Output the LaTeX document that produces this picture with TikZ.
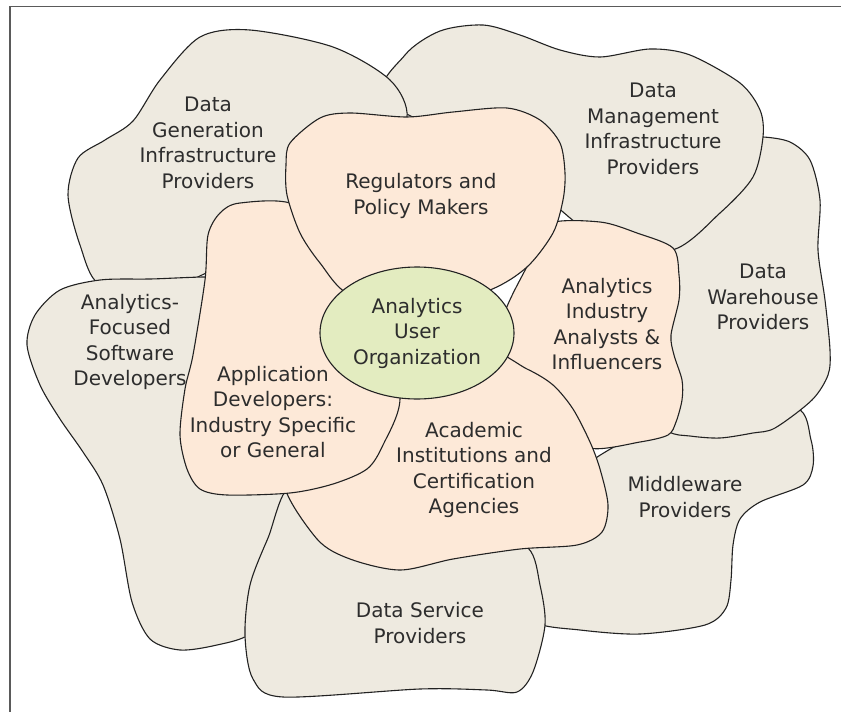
\documentclass[tikz,border=0pt]{standalone}
\usepackage{fontspec}
\setmainfont{DejaVu Sans}
\usepackage{xcolor}
\usetikzlibrary{shapes.geometric}

\definecolor{outerfill}{RGB}{238,234,224}
\definecolor{innerfill}{RGB}{253,233,216}
\definecolor{corefill}{RGB}{227,236,192}
\definecolor{inkline}{RGB}{34,34,34}
\definecolor{inktext}{RGB}{45,45,45}
\definecolor{framecol}{RGB}{90,90,90}

\begin{document}
\begin{tikzpicture}[
    x=1pt, y=-1pt,
    % styles
    outer_blob/.style={
        draw=inkline, fill=outerfill, line width=1.1pt
    },
    inner_blob/.style={
        draw=inkline, fill=innerfill, line width=1.1pt
    },
    core_node/.style={
        ellipse, draw=inkline, fill=corefill, line width=1.1pt,
        minimum width=194pt, minimum height=132pt, inner sep=0pt,
        align=center, text=inktext, font=\fontsize{20}{25.5}\selectfont
    },
    blob_label/.style={
        align=center, text=inktext, font=\fontsize{20}{25.5}\selectfont
    },
    frame_line/.style={
        draw=framecol, line width=1.5pt
    }
]
    \useasboundingbox (0,0) rectangle (841,712);

    % --- 1. FRAME (top and left only) ---
    \draw[frame_line] (10,712) -- (10,6.5) -- (841,6.5);

    % --- 2. OUTER RING (providers) ---
    % Middleware
    \draw[outer_blob] plot[smooth cycle] coordinates {
        (796,408) (811,440) (813,466) (803,485) (760,502) (740,519) (733,545)
        (731,580) (726,608) (705,625) (640,634) (580,630) (535,622)
        (525,590) (530,540) (580,470) (650,430) (720,418)};
    % Data warehouse
    \draw[outer_blob] plot[smooth cycle] coordinates {
        (763,137) (790,142) (810,160) (820,200) (818,250) (825,300) (830,350)
        (828,375) (812,400) (775,428) (753,433) (720,438) (690,436) (668,431)
        (640,400) (650,255) (720,170) (750,140)};
    % Data management
    \draw[outer_blob] plot[smooth cycle] coordinates {
        (405,55) (440,31) (483,25) (520,35) (560,50) (600,57) (650,49) (690,55)
        (740,83) (760,110) (763,137) (753,177) (720,213) (672,250)
        (600,240) (500,160) (385,100)};
    % Data generation
    \draw[outer_blob] plot[smooth cycle] coordinates {
        (100,285) (80,245) (68,195) (78,158) (105,140) (133,121) (160,80)
        (200,37) (250,30) (333,47) (390,80) (407,118) (380,170) (270,240)
        (160,292)};
    % Analytics-focused software
    \draw[outer_blob] plot[smooth cycle] coordinates {
        (230,278) (150,279) (100,280) (60,290) (35,315) (27,345) (40,385)
        (60,419) (83,452) (103,485) (120,539) (132,602) (150,639) (180,650)
        (217,645) (250,634) (280,600) (300,510) (290,470) (220,400) (230,300)};
    % Data service
    \draw[outer_blob] plot[smooth cycle] coordinates {
        (292,486) (268,538) (250,585) (245,635) (253,679) (283,697) (420,689)
        (487,690) (517,692) (533,672) (545,625) (540,585) (528,548)
        (480,530) (350,530)};

    % --- 3. INNER RING ---
    % Analytics industry
    \draw[inner_blob] plot[smooth cycle] coordinates {
        (548,224) (600,222) (637,233) (673,248) (679,275) (679,300) (671,335)
        (674,355) (682,380) (682,400) (676,422) (668,435) (640,442) (590,448)
        (560,420) (500,340) (530,260)};
    % Academic
    \draw[inner_blob] plot[smooth cycle] coordinates {
        (285,484) (317,539) (350,559) (400,570) (453,559) (520,549) (577,545)
        (602,532) (608,505) (600,469) (590,442) (573,409) (553,385) (527,369)
        (480,350) (400,390) (330,460)};
    % Application developers
    \draw[inner_blob] plot[smooth cycle] coordinates {
        (295,205) (240,203) (220,213) (208,235) (205,280) (193,355) (185,389)
        (180,435) (187,469) (200,489) (227,495) (290,493) (333,484) (367,469)
        (383,445) (400,399) (385,330) (335,255)};
    % Regulators
    \draw[inner_blob] plot[smooth cycle] coordinates {
        (290,143) (320,118) (350,113) (407,117) (453,112) (507,108) (540,120)
        (560,143) (565,173) (563,200) (553,233) (527,267) (490,290) (420,310)
        (350,295) (320,263) (300,233) (287,195) (286,165)};

    % --- 4. CORE ---
    \node[core_node] (user) at (417,333) {Analytics\\User\\Organization};

    % --- 5. LABELS ---
    \node[blob_label] (datagen) at (208,143) {Data\\Generation\\Infrastructure\\Providers};
    \node[blob_label] (datamgmt) at (653,129) {Data\\Management\\Infrastructure\\Providers};
    \node[blob_label] (warehouse) at (763,297) {Data\\Warehouse\\Providers};
    \node[blob_label] (middleware) at (685,497) {Middleware\\Providers};
    \node[blob_label] (dataservice) at (420,623) {Data Service\\Providers};
    \node[blob_label] (software) at (130,342) {Analytics-\\Focused\\Software\\Developers};
    \node[blob_label] (regulators) at (421,196) {Regulators and\\Policy Makers};
    \node[blob_label] (analysts) at (607,324) {Analytics\\Industry\\Analysts \&\\Influencers};
    \node[blob_label] (academic) at (474,470) {Academic\\Institutions and\\Certification\\Agencies};
    \node[blob_label] (appdev) at (273,412) {Application\\Developers:\\Industry Specific\\or General};

\end{tikzpicture}
\end{document}
